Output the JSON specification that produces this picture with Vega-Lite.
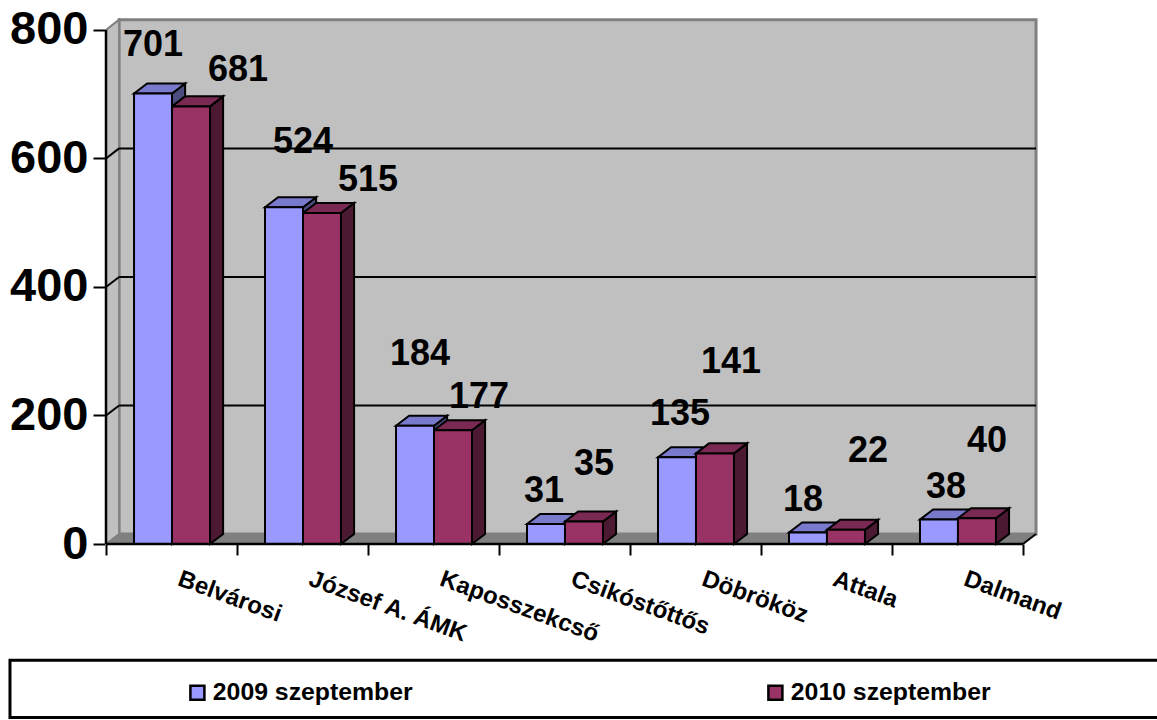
{
"$schema":"https://vega.github.io/schema/vega-lite/v6.json",
"width":932,"height":525,"autosize":"none",
"padding":{"left":106,"top":19,"right":119,"bottom":176},
"background":"white",
"config":{"view":{"stroke":null},"font":"Liberation Sans"},
"datasets":{
"bars":[
{"telep":"Belvárosi","ev":"2009 szeptember","ertek":701},{"telep":"Belvárosi","ev":"2010 szeptember","ertek":681},
{"telep":"József A. ÁMK","ev":"2009 szeptember","ertek":524},{"telep":"József A. ÁMK","ev":"2010 szeptember","ertek":515},
{"telep":"Kaposszekcső","ev":"2009 szeptember","ertek":184},{"telep":"Kaposszekcső","ev":"2010 szeptember","ertek":177},
{"telep":"Csikóstőttős","ev":"2009 szeptember","ertek":31},{"telep":"Csikóstőttős","ev":"2010 szeptember","ertek":35},
{"telep":"Döbrököz","ev":"2009 szeptember","ertek":135},{"telep":"Döbrököz","ev":"2010 szeptember","ertek":141},
{"telep":"Attala","ev":"2009 szeptember","ertek":18},{"telep":"Attala","ev":"2010 szeptember","ertek":22},
{"telep":"Dalmand","ev":"2009 szeptember","ertek":38},{"telep":"Dalmand","ev":"2010 szeptember","ertek":40}],
"grid":[{"v":200},{"v":400},{"v":600}]
},
"layer":[
{"data":{"values":[{"a":1}]},"mark":{"type":"rect","fill":"white","stroke":"black","strokeWidth":3},
 "encoding":{"x":{"datum":-0.733,"type":"quantitative","scale":{"domain":[0,7.115],"nice":false,"zero":false},
   "axis":{"title":null,"values":[0,0.5,1,1.5,2,2.5,3,3.5,4,4.5,5,5.5,6,6.5,7],"domain":false,"grid":false,"tickSize":11,"tickWidth":2,"tickColor":"black",
     "tickOpacity":{"condition":{"test":"datum.value%1==0","value":1},"value":0},
     "labelExpr":"datum.value%1==0.5?['Belvárosi','József A. ÁMK','Kaposszekcső','Csikóstőttős','Döbrököz','Attala','Dalmand'][floor(datum.value)]:''",
     "labelAngle":20,"labelAlign":"left","labelBaseline":"middle","labelPadding":23,"labelOffset":7,"labelFont":"Liberation Sans","labelFontWeight":"bold","labelFontSize":24,"labelColor":"black","labelOverlap":false,"labelBound":false,"labelFlush":false}},
  "x2":{"datum":9},
  "y":{"datum":-181,"type":"quantitative","scale":{"domain":[0,817],"nice":false,"zero":false},
   "axis":{"title":null,"values":[0,200,400,600,800],"domain":false,"grid":false,"tickSize":13,"tickWidth":2,"tickColor":"black","labelPadding":5,"labelFont":"Liberation Sans","labelFontWeight":"bold","labelFontSize":47,"labelColor":"black"}},
  "y2":{"datum":-270}}},
{"data":{"values":[{"a":1}]},"mark":{"type":"rect","fill":"#C0C0C0","stroke":"#808080","strokeWidth":3},
 "encoding":{"x":{"datum":0.1,"type":"quantitative"},"x2":{"datum":7.1},"y":{"datum":15.6,"type":"quantitative"},"y2":{"datum":816}}},
{"data":{"values":[{"x":0,"y":0,"y2":800},{"x":0.1,"y":15.6,"y2":816}]},"mark":{"type":"area","orient":"vertical","fill":"#C0C0C0","stroke":"#808080","strokeWidth":2},
 "encoding":{"x":{"field":"x","type":"quantitative"},"y":{"field":"y","type":"quantitative"},"y2":{"field":"y2"}}},
{"data":{"values":[{"x":0,"y":0,"y2":0},{"x":0.1,"y":15.6,"y2":0},{"x":7,"y":15.6,"y2":0},{"x":7.1,"y":15.6,"y2":15.6}]},"mark":{"type":"area","orient":"vertical","fill":"#808080","stroke":"#808080","strokeWidth":1},
 "encoding":{"x":{"field":"x","type":"quantitative"},"y":{"field":"y","type":"quantitative"},"y2":{"field":"y2"}}},
{"data":{"name":"grid"},"layer":[
 {"mark":{"type":"rule","color":"black","strokeWidth":2},"encoding":{"x":{"datum":0.1,"type":"quantitative"},"x2":{"datum":7.1},"y":{"field":"v2","type":"quantitative"}}},
 {"mark":{"type":"rule","color":"black","strokeWidth":2},"encoding":{"x":{"datum":0,"type":"quantitative"},"x2":{"datum":0.1},"y":{"field":"v","type":"quantitative"},"y2":{"field":"v2"}}}
],"transform":[{"calculate":"datum.v+15.6","as":"v2"}]},
{"data":{"name":"bars"},
 "transform":[
  {"calculate":"indexof(['Belvárosi','József A. ÁMK','Kaposszekcső','Csikóstőttős','Döbrököz','Attala','Dalmand'],datum.telep)","as":"i"},
  {"calculate":"datum.ev=='2009 szeptember'?0:1","as":"s"},
  {"calculate":"datum.i+0.214+datum.s*0.29","as":"x0"},
  {"calculate":"datum.x0+0.29","as":"x1"},
  {"calculate":"datum.telep+datum.ev","as":"key"}],
 "layer":[
  {"transform":[{"calculate":"[0,1]","as":"k"},{"flatten":["k"]},
    {"calculate":"datum.x1+datum.k*0.1","as":"px"},{"calculate":"datum.k*15.6","as":"lo"},{"calculate":"datum.ertek+datum.k*15.6","as":"hi"}],
   "mark":{"type":"area","orient":"vertical","stroke":"black","strokeWidth":2},
   "encoding":{"x":{"field":"px","type":"quantitative"},"y":{"field":"lo","type":"quantitative"},"y2":{"field":"hi"},"detail":{"field":"key"},
    "fill":{"condition":{"test":"datum.s==0","value":"#4C4C7F"},"value":"#4C1933"}}},
  {"transform":[{"calculate":"[0,1,2,3]","as":"k"},{"flatten":["k"]},
    {"calculate":"[datum.x0,datum.x0+0.1,datum.x1,datum.x1+0.1][datum.k]","as":"px"},
    {"calculate":"datum.ertek+[0,15.6,15.6,15.6][datum.k]","as":"hi"},
    {"calculate":"datum.ertek+[0,0,0,15.6][datum.k]","as":"lo"}],
   "mark":{"type":"area","orient":"vertical","stroke":"black","strokeWidth":2},
   "encoding":{"x":{"field":"px","type":"quantitative"},"y":{"field":"hi","type":"quantitative"},"y2":{"field":"lo"},"detail":{"field":"key"},
    "fill":{"condition":{"test":"datum.s==0","value":"#7A7ACC"},"value":"#7A2952"}}},
  {"mark":{"type":"bar","stroke":"black","strokeWidth":2},
   "encoding":{"x":{"field":"x0","type":"quantitative"},"x2":{"field":"x1"},"y":{"field":"ertek","type":"quantitative"},"y2":{"datum":0},
    "color":{"field":"ev","type":"nominal","scale":{"domain":["2009 szeptember","2010 szeptember"],"range":["#9999FF","#993366"]},
     "legend":{"title":null,"orient":"none","legendX":79,"legendY":661,"columns":2,"columnPadding":350,"symbolType":"square","symbolSize":196,"symbolStrokeColor":"black","symbolStrokeWidth":2.5,"symbolOpacity":1,"labelFont":"Liberation Sans","labelFontWeight":"bold","labelFontSize":24.8,"labelColor":"black","labelOffset":3,"labelLimit":400,"padding":0}}}},
  {"transform":[
    {"calculate":"[0.359,1.008,1.504,2.0,2.397,2.847,3.344,3.725,4.382,4.771,5.321,5.817,6.412,6.725][datum.i*2+datum.s]","as":"lx"},
    {"calculate":"[777,737,625,566,295,228,82,125,202,284,69,144,89,161][datum.i*2+datum.s]","as":"ly"}],
   "mark":{"type":"text","font":"Liberation Sans","fontWeight":"bold","fontSize":36,"color":"black","align":"center","baseline":"middle"},
   "encoding":{"x":{"field":"lx","type":"quantitative"},"y":{"field":"ly","type":"quantitative"},"text":{"field":"ertek","type":"quantitative"}}}
 ]},
{"data":{"values":[{"a":1}]},"layer":[
 {"mark":{"type":"rule","color":"black","strokeWidth":2.5},"encoding":{"x":{"datum":0,"type":"quantitative"},"y":{"datum":0,"type":"quantitative"},"y2":{"datum":800}}},
 {"mark":{"type":"rule","color":"black","strokeWidth":2.5},"encoding":{"x":{"datum":0,"type":"quantitative"},"x2":{"datum":7},"y":{"datum":0,"type":"quantitative"}}},
 {"mark":{"type":"rule","color":"black","strokeWidth":2},"encoding":{"x":{"datum":7,"type":"quantitative"},"x2":{"datum":7.1},"y":{"datum":0,"type":"quantitative"},"y2":{"datum":15.6}}}
]}
]}
